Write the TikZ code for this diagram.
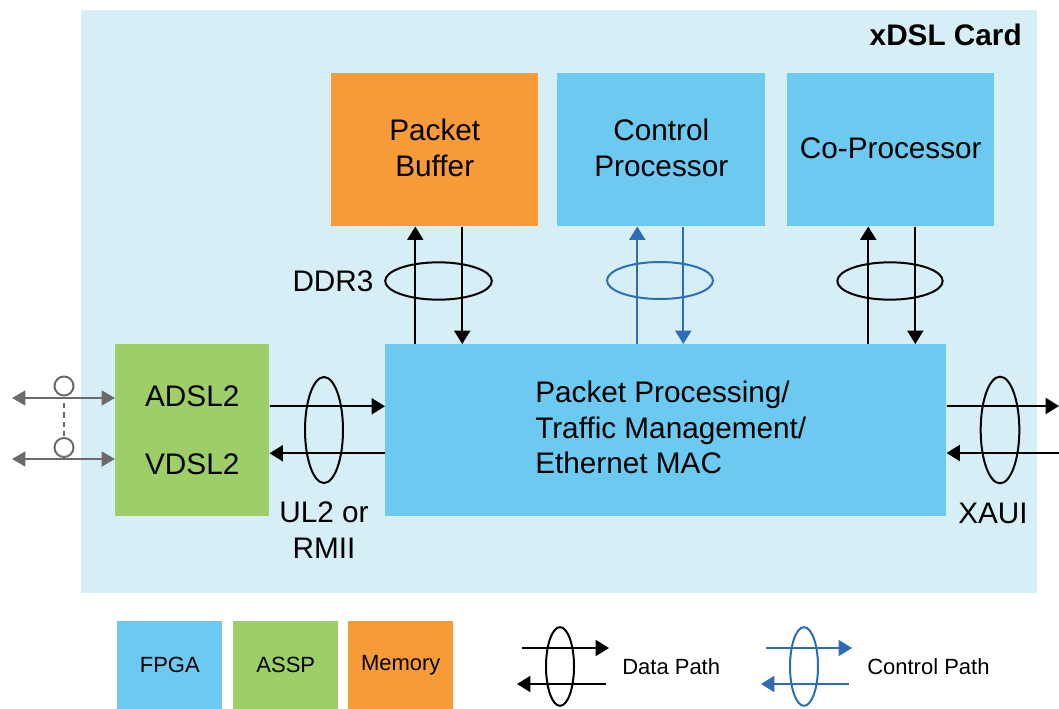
\documentclass[tikz,border=0pt]{standalone}
\usepackage{fontspec}
\setmainfont{Liberation Sans}
\usetikzlibrary{shapes.geometric,arrows.meta,calc}
\definecolor{cardbg}{RGB}{214,238,246}
\definecolor{fpga}{RGB}{108,201,240}
\definecolor{assp}{RGB}{157,206,103}
\definecolor{mem}{RGB}{247,154,56}
\definecolor{ctrl}{RGB}{46,109,180}
\definecolor{grayln}{RGB}{107,107,107}
\begin{document}
\begin{tikzpicture}[x=0.75pt,y=-0.75pt,
  blk/.style={draw=none, inner sep=0pt, anchor=north west, align=center, text=black,
    text depth=3pt, font=\fontsize{22.3}{27}\selectfont},
  lbl/.style={inner sep=0pt, align=center, text=black, font=\fontsize{22.3}{26.6}\selectfont},
  legbox/.style={draw=none, inner sep=0pt, anchor=north west, minimum width=78.75pt,
    minimum height=66pt, font=\fontsize{16.5}{20}\selectfont},
  leglbl/.style={inner sep=0pt, anchor=west, font=\fontsize{16.5}{20}\selectfont},
  arr/.style={line width=1.5pt, draw=black, -{Triangle[length=10pt,width=12pt]}},
  carr/.style={line width=1.5pt, draw=ctrl, -{Triangle[length=10pt,width=12pt]}},
  garr/.style={line width=2pt, draw=grayln, {Triangle[length=10pt,width=11pt]}-{Triangle[length=10pt,width=11pt]}},
  ell/.style={ellipse, draw=black, line width=1.5pt, inner sep=0pt},
  cell/.style={ellipse, draw=ctrl, line width=1.5pt, inner sep=0pt},
]
\useasboundingbox (0,0) rectangle (1059,709);
\fill[white] (0,0) rectangle (1059,709);

% card
\node[blk, fill=cardbg, minimum width=717pt, minimum height=437.25pt] (card) at (81,10) {};
\node[lbl, anchor=east, font=\fontsize{22.3}{27}\selectfont\bfseries] (title) at (1022,35) {xDSL Card};

% top blocks
\node[blk, fill=mem, minimum width=155.25pt, minimum height=114.75pt] (pb) at (331,73) {Packet\\Buffer};
\node[blk, fill=fpga, minimum width=156pt, minimum height=114.75pt] (cp) at (557,73) {Control\\Processor};
\node[blk, fill=fpga, minimum width=155.25pt, minimum height=114.75pt] (co) at (787,73) {Co-Processor};

% main block
\node[blk, fill=fpga, minimum width=420.75pt, minimum height=129pt] (pp) at (385,344) {};
\node[lbl, align=left, anchor=west] (ppl) at (535,427.5)
  {Packet Processing/\\Traffic Management/\\Ethernet MAC};

% ASSP block
\node[blk, fill=assp, minimum width=115.5pt, minimum height=129pt, text depth=0pt] (gr) at (115,344)
  {ADSL2\\[24pt]VDSL2};

% vertical links
\draw[arr] ([xshift=-14.6pt]pb.south |- pp.north) -- ([xshift=-14.6pt]pb.south);
\draw[arr] ([xshift=20.6pt]pb.south) -- ([xshift=20.6pt]pb.south |- pp.north);
\node[ell, minimum width=80pt, minimum height=28pt] (e1) at (438.5,281) {};
\node[lbl] (ddr) at (333,281) {DDR3};

\draw[carr] ([xshift=-18pt]cp.south |- pp.north) -- ([xshift=-18pt]cp.south);
\draw[carr] ([xshift=16.5pt]cp.south) -- ([xshift=16.5pt]cp.south |- pp.north);
\node[cell, minimum width=79.5pt, minimum height=27.75pt] (e2) at (660,280.5) {};

\draw[arr] ([xshift=-16.9pt]co.south |- pp.north) -- ([xshift=-16.9pt]co.south);
\draw[arr] ([xshift=18.4pt]co.south) -- ([xshift=18.4pt]co.south |- pp.north);
\node[ell, minimum width=79pt, minimum height=28pt] (e3) at (890,281) {};

% left links
\draw[arr] ([yshift=18pt]gr.east) -- ([yshift=18pt]gr.east -| pp.west);
\draw[arr] ([yshift=-17.25pt]pp.west) -- ([yshift=-17.25pt]pp.west -| gr.east);
\node[ell, minimum width=28.5pt, minimum height=79.5pt] (e4) at (324,430) {};
\node[lbl] (ul) at (324,530) {UL2 or\\RMII};

% right links
\coordinate (r1) at (1059,406);
\coordinate (r2) at (1059,453);
\draw[arr] (pp.east |- r1) -- (r1);
\draw[arr] (r2) -- (pp.east |- r2);
\node[ell, minimum width=29pt, minimum height=80pt] (e5) at (1000,430) {};
\node[lbl] (xaui) at (993,513) {XAUI};

% gray lines
\coordinate (g1) at (12,398);
\coordinate (g2) at (12,459);
\draw[garr] (g1) -- (gr.west |- g1);
\draw[garr] (g2) -- (gr.west |- g2);
\node[circle, draw=grayln, line width=1.5pt, minimum size=14.25pt, inner sep=0pt] (c1) at (64,386) {};
\node[circle, draw=grayln, line width=1.5pt, minimum size=14.25pt, inner sep=0pt] (c2) at (64,447.5) {};
\draw[grayln, line width=2pt, dash pattern=on 4pt off 3pt] ([yshift=-4.9pt]c1.south) -- (c2.north);

% legend
\node[legbox, fill=fpga] (lf) at (117,621) {FPGA};
\node[legbox, fill=assp] (la) at (233,621) {ASSP};
\node[legbox, fill=mem] (lm) at (348,621) {Memory};

\coordinate (d1a) at (522,648); \coordinate (d1b) at (609,648);
\coordinate (d2a) at (606,684); \coordinate (d2b) at (517,684);
\draw[arr, line width=1.3pt] (d1a) -- (d1b);
\draw[arr, line width=1.3pt] (d2a) -- (d2b);
\node[ell, minimum width=21pt, minimum height=59pt] (le1) at (560,666.5) {};
\node[leglbl] (dp) at (622,667) {Data Path};

\coordinate (c1a) at (766,648); \coordinate (c1b) at (852,648);
\coordinate (c2a) at (849,684); \coordinate (c2b) at (761,684);
\draw[carr, line width=1.3pt] (c1a) -- (c1b);
\draw[carr, line width=1.3pt] (c2a) -- (c2b);
\node[cell, minimum width=21pt, minimum height=59pt] (le2) at (804,666.5) {};
\node[leglbl] (cpl) at (867,667) {Control Path};
\end{tikzpicture}
\end{document}
